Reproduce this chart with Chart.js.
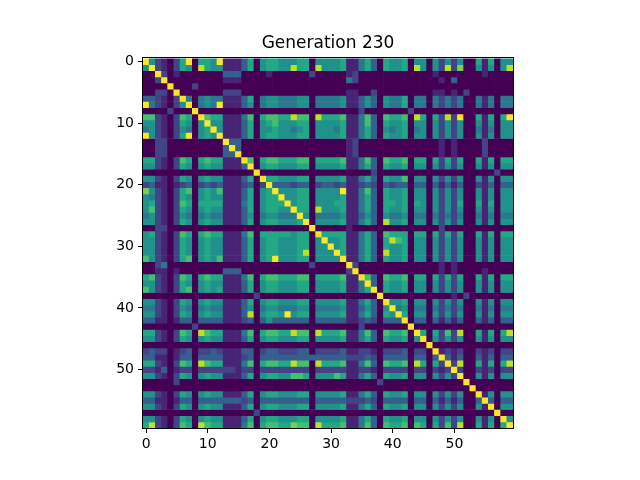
<!DOCTYPE html>
<html><head><meta charset="utf-8">
<script src="https://cdn.jsdelivr.net/npm/chart.js@4.4.1/dist/chart.umd.min.js"></script>
<style>html,body{margin:0;padding:0;background:#fff;} canvas{display:block;}</style>
</head><body>
<canvas id="c" width="640" height="480"></canvas>
<script>
const chartTitle = "Generation 230";
const xTicks = [0, 10, 20, 30, 40, 50];
const yTicks = [0, 10, 20, 30, 40, 50];
// each character is one cell value: '0'..'9' = 0.0..0.9, 'a' = 1.0 (row i, columns 0..59)
const cellRows = [
"a521026a06 65a1113605 6655566055 5561146306 5560550525 2500616055",
"5a21026509 6551113605 6655966095 5561146306 5560950529 2800515059",
"00a2010000 0003330000 1000000200 0001200000 0000000100 0000010000",
"002a000000 0001110000 0000000000 0004200000 0000000010 3000000000",
"0000a00020 0000000000 0000000000 0000000000 0000000000 0000000000",
"00220a0000 0002220000 0000000000 0001100200 0000000110 1020000000",
"332102a404 5441113604 5544455044 4451135305 4460440424 2400414044",
"a421025a04 54a1113504 5544455044 4451135305 4460440424 2400414044",
"00002000a0 0000000000 0000000000 0000020000 0002000000 0000000000",
"772102760a 7661114706 7766977096 6671147307 6670960629 2a0061606a",
"5521026505 a551113605 6755566055 5561147306 5560550525 2500515055",
"4521025405 6a51113605 5655456055 5461146305 4560450525 2500414055",
"a521026a05 65a1113605 6655566055 5561146306 5560550525 2500515055",
"0022000000 000a330000 0000000000 0001200000 0000000010 1000020000",
"0022000000 0003a30000 0000000000 0001200000 0000000010 1000020000",
"0022000000 00033a0000 0000000000 0001200000 0000000010 1000020000",
"6621027606 766111a706 7766677066 6671147307 6670660626 2600616066",
"5521026505 6551113a05 6655566055 5561146306 5560550525 2500515055",
"0000000000 00000000a0 0000000000 0000000200 0000000000 0000000200",
"5521026505 655111360a 6655566055 5561146306 5570550525 2500515055",
"2311012302 3231112302 a333233023 3231123203 2330330313 1300213033",
"8521026705 6571113605 6a55566055 55a1147306 5560550525 2500515055",
"5421026505 6551113605 66a5566055 5561146306 5560550525 2500515055",
"5621027606 6661114605 666a566055 5661146306 6560650525 2600616055",
"5721026505 6551113605 6655a66095 5561146306 5560550525 2500515055",
"4521025404 5441113504 55444a5044 4451135305 4450440424 2400414044",
"5521026505 6551113605 665556a055 5561146309 5560550525 2500515055",
"0022000000 0000000000 0000000a00 0001000000 0000000020 0000000000",
"5621027606 7661114706 66665660a6 6661146307 6660660626 2600616066",
"5521026505 6551113605 665556605a 5561146306 9760550525 2500515055",
"5521026505 6551113605 6655566055 a561146306 5560550525 2500515055",
"5521026505 6551113605 6655569055 5a61146309 5560550525 2500515055",
"7521026705 6571113605 6a55566055 55a1146306 5560550525 2500515055",
"0024000000 0000000000 0000000200 000a200000 0000000010 1000000000",
"0011010000 0003330000 0000000000 0002a00000 0000000010 1000010000",
"6721027606 7661114706 7766677066 66711a7307 6670660626 2600616066",
"5521026505 6551113605 6655566055 556114a306 5560550525 2500515055",
"7521026705 6561113605 6655566055 5561146a06 5560550525 2500515055",
"0000000000 0000000020 0000000000 00000000a0 0000000000 1020000000",
"5521026505 6551113605 6655566055 556114630a 5560550525 2500515055",
"4421025404 5441113504 5544455044 4451135305 a450440424 2400414044",
"5521026505 6551113905 665a566055 5561146306 5a60550525 2500515055",
"3311013303 3331112303 5333333033 3331123203 33a0330313 1300313033",
"0000000020 0000000000 0000000000 0000020000 000a000000 0000000000",
"6621027609 7661114706 7766977096 6671147307 6670a60627 2900616069",
"5521026505 6551113605 6655566055 5561146306 55605a0525 2500515055",
"0000000000 0000000000 0000000000 0000000000 000000a000 0000000000",
"2322012302 2321113302 3322233022 2231122102 2230220a12 1200212022",
"3311013303 3331112303 3333333333 3332223203 33303303a3 1300313033",
"6621027609 7661114706 7766977096 6671147307 667096062a 2900616069",
"2213012202 2222212202 2222222022 2221122102 2220220212 a200212022",
"5521026505 6551113605 6655776055 5761146306 5560550525 2a00515055",
"0000020000 0000000000 0000000000 0000000020 0000000000 00a0000000",
"0000000000 0000000000 0000000000 0000000000 0000000000 000a000000",
"5521026505 6551113605 6655566055 5561146306 5560550525 2500a15055",
"3311013303 3333332303 3333333033 3332223203 3330330313 13003a3033",
"5521026505 6551113605 6655566055 5561146306 5560550525 250051a055",
"0000000000 0000000020 0000000000 0000000000 0000000000 0000000a00",
"5521026505 6551113605 6655566055 5561146306 5560550525 25005150a5",
"6921027609 7661114706 7766877096 6671147307 6670760627 290061606a"
];
const levelChars = "0123456789a";
const viridis = ["#440154","#482475","#414487","#355f8d","#2a788e","#21918c","#22a884","#44bf70","#7ad151","#bddf26","#fde725"];

const grid = cellRows.map(s => s.replace(/ /g, '').split('').map(ch => levelChars.indexOf(ch) / 10));
const nRows = grid.length;
const nCols = grid[0].length;

const datasets = grid.map((row, r) => ({
  data: row.map((v, c) => ({ x: c, y: [r - 0.5, r + 0.5] })),
  backgroundColor: row.map(v => viridis[Math.round(v * 10)]),
  borderWidth: 0,
  grouped: false,
  barPercentage: 1,
  categoryPercentage: 1
}));

const framePlugin = {
  id: 'frame',
  afterDraw(chart) {
    const { ctx, chartArea: a } = chart;
    ctx.save();
    ctx.strokeStyle = '#000';
    ctx.lineWidth = 1;
    ctx.strokeRect(Math.round(a.left) - 0.5, Math.round(a.top) - 0.5,
                   Math.round(a.right - a.left) + 1, Math.round(a.bottom - a.top) + 1);
    ctx.restore();
  }
};

const tickFont = { family: 'DejaVu Sans', size: 14 };
new Chart(document.getElementById('c'), {
  type: 'bar',
  data: { datasets },
  plugins: [framePlugin],
  options: {
    responsive: false,
    animation: false,
    layout: { padding: { left: 0, right: 127, top: 0, bottom: 0 } },
    plugins: {
      legend: { display: false },
      tooltip: { enabled: false },
      title: {
        display: true, text: chartTitle, fullSize: false, color: '#000',
        font: { family: 'DejaVu Sans', size: 17, weight: 'normal' },
        padding: { top: 33, bottom: 5 }
      }
    },
    scales: {
      x: {
        type: 'linear', min: -0.5, max: nCols - 0.5, offset: false, position: 'bottom',
        afterBuildTicks: s => { s.ticks = xTicks.map(v => ({ value: v })); },
        afterFit: s => { s.height = 52; },
        grid: { display: true, drawOnChartArea: false, drawTicks: true, tickLength: 5, tickColor: '#000', tickWidth: 1, offset: false },
        border: { display: false },
        ticks: { color: '#000', font: tickFont, padding: 3, maxRotation: 0, autoSkip: false }
      },
      y: {
        type: 'linear', reverse: true, min: -0.5, max: nRows - 0.5, offset: false,
        afterBuildTicks: s => { s.ticks = yTicks.map(v => ({ value: v })); },
        afterFit: s => { s.width = 143; },
        grid: { display: true, drawOnChartArea: false, drawTicks: true, tickLength: 5, tickColor: '#000', tickWidth: 1, offset: false },
        border: { display: false },
        ticks: { color: '#000', font: tickFont, padding: 4, autoSkip: false }
      }
    }
  }
});
</script>
</body></html>
